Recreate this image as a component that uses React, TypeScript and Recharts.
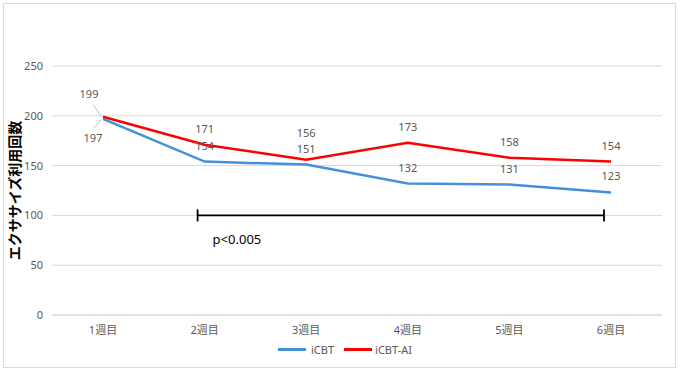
import React from "react";
import {
  LineChart,
  Line,
  XAxis,
  YAxis,
  CartesianGrid,
  LabelList,
  ReferenceLine
} from "recharts";

const weeks = ["1週目", "2週目", "3週目", "4週目", "5週目", "6週目"];
const icbt = [197, 154, 151, 132, 131, 123];
const icbtAi = [199, 171, 156, 173, 158, 154];
const yTicks = [0, 50, 100, 150, 200, 250];

const data = weeks.map((week, i) => ({ week, icbt: icbt[i], icbtAi: icbtAi[i] }));

const FONT = "'Noto Sans', 'Noto Sans CJK JP', sans-serif";
const GRAY = "#595959";
const BLUE = "#4590D8";
const RED = "#FF0000";

// labels for the first week sit off to the side with a small leader line
const makeLabel = (series: "blue" | "red") => (props: any) => {
  const { x, y, value, index } = props;
  if (index === 0) {
    if (series === "red") {
      return (
        <g>
          <line x1={x - 2} y1={y - 1} x2={x - 10} y2={y - 12} stroke="#bfbfbf" />
          <text x={x - 14} y={y - 19} textAnchor="middle" fontSize={11} fill={GRAY} fontFamily={FONT}>
            {value}
          </text>
        </g>
      );
    }
    return (
      <g>
        <line x1={x - 2} y1={y + 1} x2={x - 9} y2={y + 9} stroke="#bfbfbf" />
        <text x={x - 10} y={y + 23} textAnchor="middle" fontSize={11} fill={GRAY} fontFamily={FONT}>
          {value}
        </text>
      </g>
    );
  }
  // week 3 red label was nudged up to clear the blue one
  const lift = series === "red" && index === 2 ? 23 : 12;
  return (
    <text x={x} y={y - lift} textAnchor="middle" fontSize={11} fill={GRAY} fontFamily={FONT}>
      {value}
    </text>
  );
};

const Bracket = (props: any) => {
  const { x1, y1, x2 } = props;
  const a = x1 - 7;
  const b = x2 - 7;
  return (
    <g>
      <line x1={a} y1={y1} x2={b} y2={y1} stroke="#000" strokeWidth={1.8} />
      <line x1={a} y1={y1 - 6} x2={a} y2={y1 + 6} stroke="#000" strokeWidth={1.8} />
      <line x1={b} y1={y1 - 6} x2={b} y2={y1 + 6} stroke="#000" strokeWidth={1.8} />
      <text x={a + 15} y={y1 + 29} fontSize={13} fill="#000" fontFamily={FONT}>
        p&lt;0.005
      </text>
    </g>
  );
};

export default function App() {
  return (
    <div style={{ position: "absolute", left: 0, top: 0, width: 680, height: 372, background: "#fff" }}>
      <div
        style={{
          position: "absolute",
          left: 3,
          top: 3,
          width: 671,
          height: 363,
          border: "1.5px solid #d9d9d9"
        }}
      />
      <div style={{ position: "absolute", left: 0, top: 0 }}>
        <LineChart
          width={680}
          height={372}
          data={data}
          margin={{ top: 66, right: 18, left: 8, bottom: 27 }}
        >
          <CartesianGrid vertical={false} stroke="#d9d9d9" />
          <XAxis
            dataKey="week"
            height={30}
            padding={{ left: 51, right: 51 }}
            tickLine={false}
            tickSize={0}
            tickMargin={11}
            axisLine={{ stroke: "#d9d9d9" }}
            tick={{ fontSize: 11, fill: GRAY, fontFamily: FONT }}
          />
          <YAxis
            width={44}
            domain={[0, 250]}
            ticks={yTicks}
            axisLine={false}
            tickLine={false}
            tickSize={0}
            tickMargin={9}
            tick={{ fontSize: 11, fill: GRAY, fontFamily: FONT }}
            label={{
              value: "エクササイズ利用回数",
              angle: -90,
              position: "insideLeft",
              offset: 7,
              style: { fontSize: 14, fill: "#000", fontWeight: 700, fontFamily: FONT, textAnchor: "middle" }
            }}
          />
          <ReferenceLine
            segment={[
              { x: "2週目", y: 100 },
              { x: "6週目", y: 100 }
            ]}
            shape={Bracket}
          />
          <Line
            type="linear"
            dataKey="icbt"
            name="iCBT"
            stroke={BLUE}
            strokeWidth={2.5}
            dot={false}
            isAnimationActive={false}
          >
            <LabelList dataKey="icbt" content={makeLabel("blue")} />
          </Line>
          <Line
            type="linear"
            dataKey="icbtAi"
            name="iCBT-AI"
            stroke={RED}
            strokeWidth={2.5}
            dot={false}
            isAnimationActive={false}
          >
            <LabelList dataKey="icbtAi" content={makeLabel("red")} />
          </Line>
        </LineChart>
      </div>
      <div
        style={{
          position: "absolute",
          left: 278,
          top: 342,
          display: "flex",
          alignItems: "center",
          fontFamily: FONT,
          fontSize: 11,
          color: GRAY
        }}
      >
        <span style={{ display: "inline-block", width: 28, height: 3, background: BLUE, marginRight: 5 }} />
        <span style={{ marginRight: 10 }}>iCBT</span>
        <span style={{ display: "inline-block", width: 28, height: 3, background: RED, marginRight: 3 }} />
        <span>iCBT-AI</span>
      </div>
    </div>
  );
}
